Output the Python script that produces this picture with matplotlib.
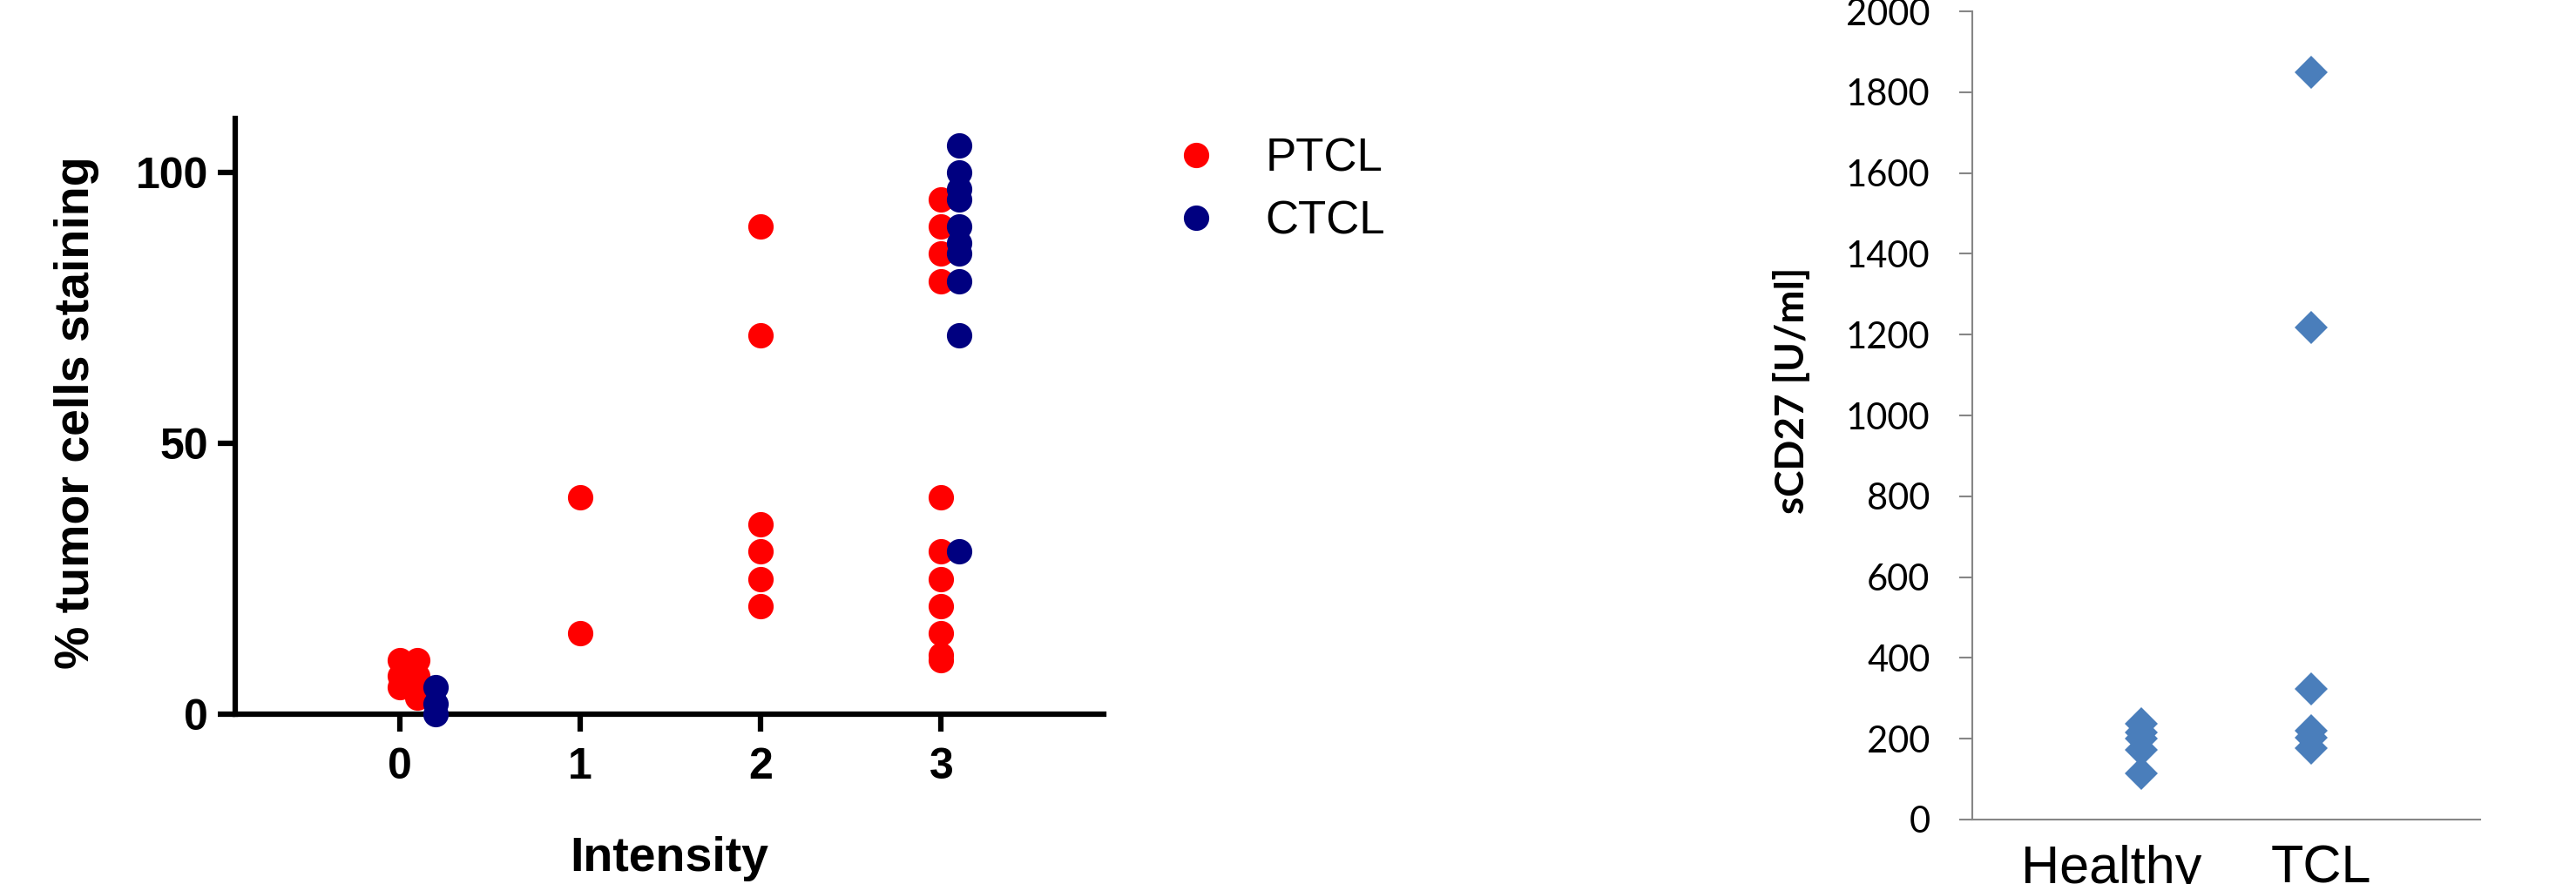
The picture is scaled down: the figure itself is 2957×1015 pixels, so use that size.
import matplotlib
matplotlib.use("Agg")
from matplotlib import pyplot as plt

plt.rcParams['font.family'] = ['Liberation Sans', 'DejaVu Sans']

# left panel: staining intensity vs % tumor cells
ptcl_x = [0, 0, 0, 0.1, 0.1, 0.1, 0.1, 1, 1, 2, 2, 2, 2, 2, 2,
          3, 3, 3, 3, 3, 3, 3, 3, 3, 3, 3]
ptcl_y = [10, 7, 5, 10, 7, 5, 3, 40, 15, 90, 70, 35, 30, 25, 20,
          95, 90, 85, 80, 40, 30, 25, 20, 15, 11, 10]
ctcl_x = [0.2, 0.2, 0.2, 3.1, 3.1, 3.1, 3.1, 3.1, 3.1, 3.1, 3.1, 3.1, 3.1]
ctcl_y = [5, 2, 0, 105, 100, 97, 95, 90, 87, 85, 80, 70, 30]
intensity_ticks = [0, 1, 2, 3]
percent_ticks = [0, 50, 100]

# right panel: soluble CD27
groups = ['Healthy', 'TCL']
healthy_vals = [236, 215, 200, 172, 115]
tcl_vals = [1850, 1218, 324, 220, 203, 176]
scd27_ticks = list(range(0, 2001, 200))

W, H = 2957, 1015
fig = plt.figure(figsize=(W / 100, H / 100), dpi=100)

# ---- left panel ----
ax1 = fig.add_axes([270 / W, 1 - 820 / H, 997 / W, 684 / H])
ax1.plot(ptcl_x, ptcl_y, 'o', color='#FF0000', markersize=21, markeredgewidth=0,
         label='PTCL', clip_on=False, zorder=5)
ax1.plot(ctcl_x, ctcl_y, 'o', color='#000080', markersize=21, markeredgewidth=0,
         label='CTCL', clip_on=False, zorder=6)
ax1.set_xlim(-0.91, 3.9)
ax1.set_ylim(0, 110)
ax1.set_xticks(intensity_ticks)
ax1.set_yticks(percent_ticks)
for side in ['top', 'right']:
    ax1.spines[side].set_visible(False)
for side in ['left', 'bottom']:
    ax1.spines[side].set_linewidth(4.5)
ax1.tick_params(axis='both', length=14.5, width=4.5, labelsize=36, direction='out')
ax1.tick_params(axis='x', pad=13)
ax1.tick_params(axis='y', pad=8)
for lbl in ax1.get_xticklabels() + ax1.get_yticklabels():
    lbl.set_fontweight('bold')

fig.text(88 / W, 1 - 474 / H, '% tumor cells staining', rotation=90,
         ha='center', va='center', fontsize=40, fontweight='bold')
fig.text(768 / W, 1 - 1000 / H, 'Intensity', ha='center', va='baseline',
         fontsize=40, fontweight='bold')

ax1.legend(loc='center left', bbox_to_anchor=(1347 / W, 1 - 218.5 / H),
           bbox_transform=fig.transFigure, frameon=False, fontsize=38,
           numpoints=1, handlelength=1.0, handletextpad=1.0, labelspacing=0.4,
           borderpad=0, borderaxespad=0)

# ---- right panel ----
ax2 = fig.add_axes([2264 / W, 1 - 941 / H, 583 / W, 928 / H])
ax2.plot([1] * len(healthy_vals), healthy_vals, 'D', color='#4A7EBB',
         markersize=19.5, markeredgewidth=0, clip_on=False)
ax2.plot([2] * len(tcl_vals), tcl_vals, 'D', color='#4A7EBB',
         markersize=19.5, markeredgewidth=0, clip_on=False)
ax2.set_xlim(0, 3)
ax2.set_ylim(0, 2000)
ax2.set_yticks(scd27_ticks)
ax2.set_xticks([])
for side in ['top', 'right']:
    ax2.spines[side].set_visible(False)
for side in ['left', 'bottom']:
    ax2.spines[side].set_linewidth(1.5)
    ax2.spines[side].set_color('#868686')
ax2.tick_params(axis='y', length=11, width=1.5, color='#868686', pad=24,
                labelsize=30, labelfontfamily='Lato')

fig.text(2058 / W, 1 - 448 / H, 'sCD27 [U/ml]', rotation=90, ha='center',
         va='center', fontsize=33, fontweight='bold', family=['Lato', 'DejaVu Sans'])
fig.text(2424 / W, 1 - 1014 / H, groups[0], ha='center', va='baseline', fontsize=44)
fig.text(2664 / W, 1 - 1014 / H, groups[1], ha='center', va='baseline', fontsize=44)

fig.savefig('out.png', dpi=100)
